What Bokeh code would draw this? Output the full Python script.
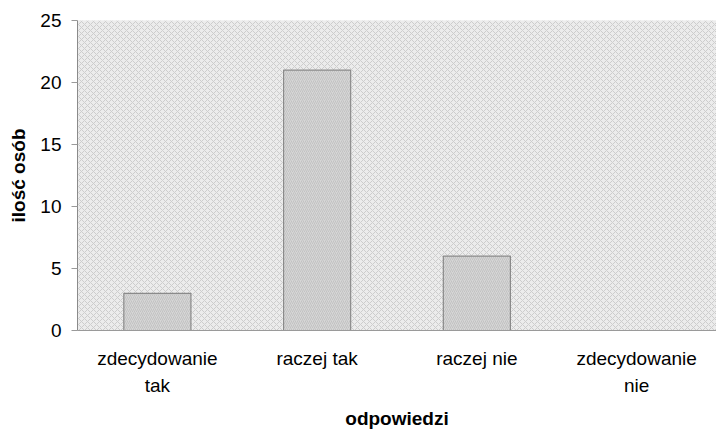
from bokeh.plotting import figure
from bokeh.models import BoxAnnotation, ColumnDataSource, FixedTicker
from bokeh.embed import file_html
from bokeh.resources import INLINE

categories = ["zdecydowanie\ntak", "raczej tak", "raczej nie", "zdecydowanie\nnie"]
values = [3, 21, 6, 0]
y_ticks = [0, 5, 10, 15, 20, 25]

src = ColumnDataSource(dict(cat=categories, val=values))

p = figure(x_range=categories, y_range=(0, 25), width=716, height=431,
           output_backend="svg", toolbar_location=None,
           min_border_left=77, min_border_right=0, min_border_top=20, min_border_bottom=85)
p.outline_line_color = None
p.background_fill_color = "#ebebeb"

bg = BoxAnnotation(fill_color="#ececec", fill_alpha=1.0, line_color=None,
                   hatch_pattern="diagonal_cross", hatch_color="#cdcdcd",
                   hatch_scale=6, hatch_weight=1, level="underlay")
p.add_layout(bg)

p.vbar(x="cat", top="val", width=0.42, source=src,
       fill_color="#d6d6d6", line_color="#8a8a8a", line_width=1.2,
       hatch_pattern="right_diagonal_line", hatch_color="#c2c2c2",
       hatch_scale=4, hatch_weight=1)

p.xgrid.grid_line_color = None
p.ygrid.grid_line_color = "#8c8c8c"
p.ygrid.grid_line_dash = "2 1"
p.ygrid.grid_line_width = 1
p.yaxis.ticker = FixedTicker(ticks=y_ticks)

font = "Liberation Sans"
for ax in (p.xaxis[0], p.yaxis[0]):
    ax.major_label_text_font = font
    ax.major_label_text_font_size = "19px"
    ax.major_label_text_color = "black"
    ax.axis_label_text_font = font
    ax.axis_label_text_font_size = "19px"
    ax.axis_label_text_font_style = "bold"
    ax.axis_label_text_color = "black"
    ax.minor_tick_line_color = None

p.xaxis.axis_label = "odpowiedzi"
p.yaxis.axis_label = "ilość osób"
p.xaxis.axis_line_color = "#9a9a9a"
p.xaxis.major_tick_line_color = None
p.xaxis.major_label_text_line_height = 1.3
p.xaxis.major_label_standoff = 11
p.xaxis.axis_label_standoff = 9
p.yaxis.axis_line_color = "#8a8a8a"
p.yaxis.major_tick_line_color = "#9a9a9a"
p.yaxis.major_tick_out = 6
p.yaxis.major_tick_in = 0
p.yaxis.major_label_standoff = 10
p.yaxis.axis_label_standoff = 8

open("out.html", "w").write(file_html(p, INLINE))
